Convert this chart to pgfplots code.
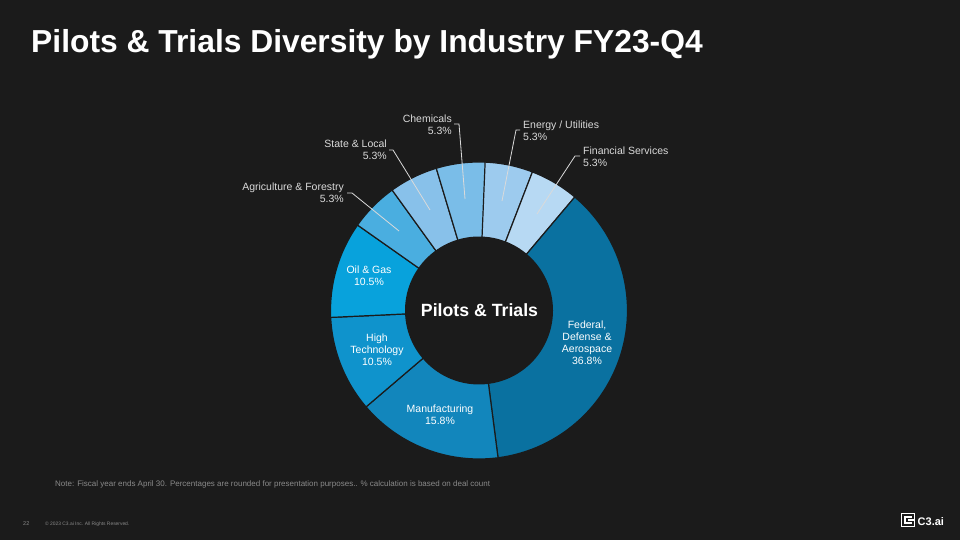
\documentclass[border=0pt]{standalone}
\usepackage{pgfplots}
\pgfplotsset{compat=1.18}
\usepackage{fontspec}
\setmainfont{Liberation Sans}
\definecolor{bg}{HTML}{1B1B1B}
\definecolor{cFed}{HTML}{0A71A0}
\definecolor{cMan}{HTML}{1286BC}
\definecolor{cHT}{HTML}{0F93CC}
\definecolor{cOG}{HTML}{08A2DC}
\definecolor{cAg}{HTML}{4AAEE0}
\definecolor{cSL}{HTML}{88C1EA}
\definecolor{cCh}{HTML}{7ABDE8}
\definecolor{cEn}{HTML}{9DCBEE}
\definecolor{cFi}{HTML}{B7D9F3}
\definecolor{lbl}{HTML}{DADADA}
\definecolor{note}{HTML}{8A8A8A}
% slice: cumulative start %, cumulative end %, colour
\newcommand{\slice}[3]{%
  \addplot[fill=#3, draw=bg, line width=1.2pt, samples=60, variable=\t,
    domain={88-3.6*(#2)}:{88-3.6*(#1)}]
    ({479+148.5*cos(\t)},{229.5+148.5*sin(\t)}) -- (axis cs:479,229.5) -- cycle;}
\begin{document}
\begin{tikzpicture}[x=1pt,y=1pt]
\path[use as bounding box] (0,0) rectangle (960,540);
\fill[bg] (0,0) rectangle (960,540);
\begin{axis}[at={(0,0)}, anchor=south west, scale only axis,
  width=960pt, height=540pt, xmin=0, xmax=960, ymin=0, ymax=540,
  hide axis, clip=false]
% percentages, clockwise from the top
\slice{0}{5.3}{cEn}      % Energy / Utilities 5.3
\slice{5.3}{10.6}{cFi}   % Financial Services 5.3
\slice{10.6}{47.4}{cFed} % Federal 36.8
\slice{47.4}{63.2}{cMan} % Manufacturing 15.8
\slice{63.2}{73.7}{cHT}  % High Technology 10.5
\slice{73.7}{84.2}{cOG}  % Oil & Gas 10.5
\slice{84.2}{89.5}{cAg}  % Agriculture 5.3
\slice{89.5}{94.8}{cSL}  % State & Local 5.3
\slice{94.8}{100.1}{cCh} % Chemicals 5.3
\addplot[fill=bg, draw=none, domain=0:360, samples=120, variable=\t]
  ({479+74*cos(\t)},{229.5+74*sin(\t)}) -- cycle;
% leader lines
\draw[lbl, line width=0.8pt] (axis cs:454,416) -- (axis cs:459,416) -- (axis cs:465,341);
\draw[lbl, line width=0.8pt] (axis cs:389,390) -- (axis cs:393,390) -- (axis cs:430,330);
\draw[lbl, line width=0.8pt] (axis cs:347,347) -- (axis cs:352,347) -- (axis cs:399,309);
\draw[lbl, line width=0.8pt] (axis cs:520,410) -- (axis cs:516,410) -- (axis cs:502,339);
\draw[lbl, line width=0.8pt] (axis cs:580,384) -- (axis cs:575,384) -- (axis cs:537,326);
% outside labels
\begin{scope}[every node/.style={font=\fontsize{10.5}{12}\selectfont, text=lbl, inner sep=0pt}]
\node[anchor=east, align=right] at (axis cs:452,415) {Chemicals\\5.3\%};
\node[anchor=east, align=right] at (axis cs:387,390) {State \& Local\\5.3\%};
\node[anchor=east, align=right] at (axis cs:344,347) {Agriculture \& Forestry\\5.3\%};
\node[anchor=west, align=left] at (axis cs:523,409) {Energy / Utilities\\5.3\%};
\node[anchor=west, align=left] at (axis cs:583,383) {Financial Services\\5.3\%};
\end{scope}
% inside labels
\begin{scope}[every node/.style={font=\fontsize{10.5}{12}\selectfont, text=white, inner sep=0pt, align=center}]
\node at (axis cs:369,264) {Oil \& Gas\\10.5\%};
\node at (axis cs:377,190) {High\\Technology\\10.5\%};
\node at (axis cs:440,125) {Manufacturing\\15.8\%};
\node at (axis cs:587,197) {Federal,\\Defense \&\\Aerospace\\36.8\%};
\end{scope}
\node[font=\fontsize{17.7}{20}\selectfont\bfseries, text=white] at (axis cs:479.5,230) {Pilots \& Trials};
% title and footer
\node[anchor=base west, inner sep=0pt, font=\fontsize{31.8}{36}\selectfont\bfseries, text=white] at (axis cs:31,487) {Pilots \& Trials Diversity by Industry FY23-Q4};
\node[anchor=west, inner sep=0pt, font=\fontsize{8}{9}\selectfont, text=note] at (axis cs:55,56) {Note: Fiscal year ends April 30. Percentages are rounded for presentation purposes.. \% calculation is based on deal count};
\node[anchor=west, inner sep=0pt, font=\fontsize{5.5}{6}\selectfont, text=note] at (axis cs:23,16) {22};
\node[anchor=west, inner sep=0pt, font=\fontsize{4.9}{5}\selectfont, text=note] at (axis cs:45,16) {\textcopyright{} 2023 C3.ai Inc. All Rights Reserved.};
\draw[white, line width=1.5pt] (axis cs:901.5,13.5) rectangle (axis cs:914.5,26.5);
\draw[white, line width=1.2pt] (axis cs:912,17) -- (axis cs:905,17) -- (axis cs:905,23) -- (axis cs:912,23);
\draw[white, line width=1.2pt] (axis cs:908,20) -- (axis cs:914,20);
\node[anchor=west, inner sep=0pt, font=\fontsize{11}{12}\selectfont\bfseries, text=white] at (axis cs:917.5,18) {C3.ai};
\end{axis}
\end{tikzpicture}
\end{document}
